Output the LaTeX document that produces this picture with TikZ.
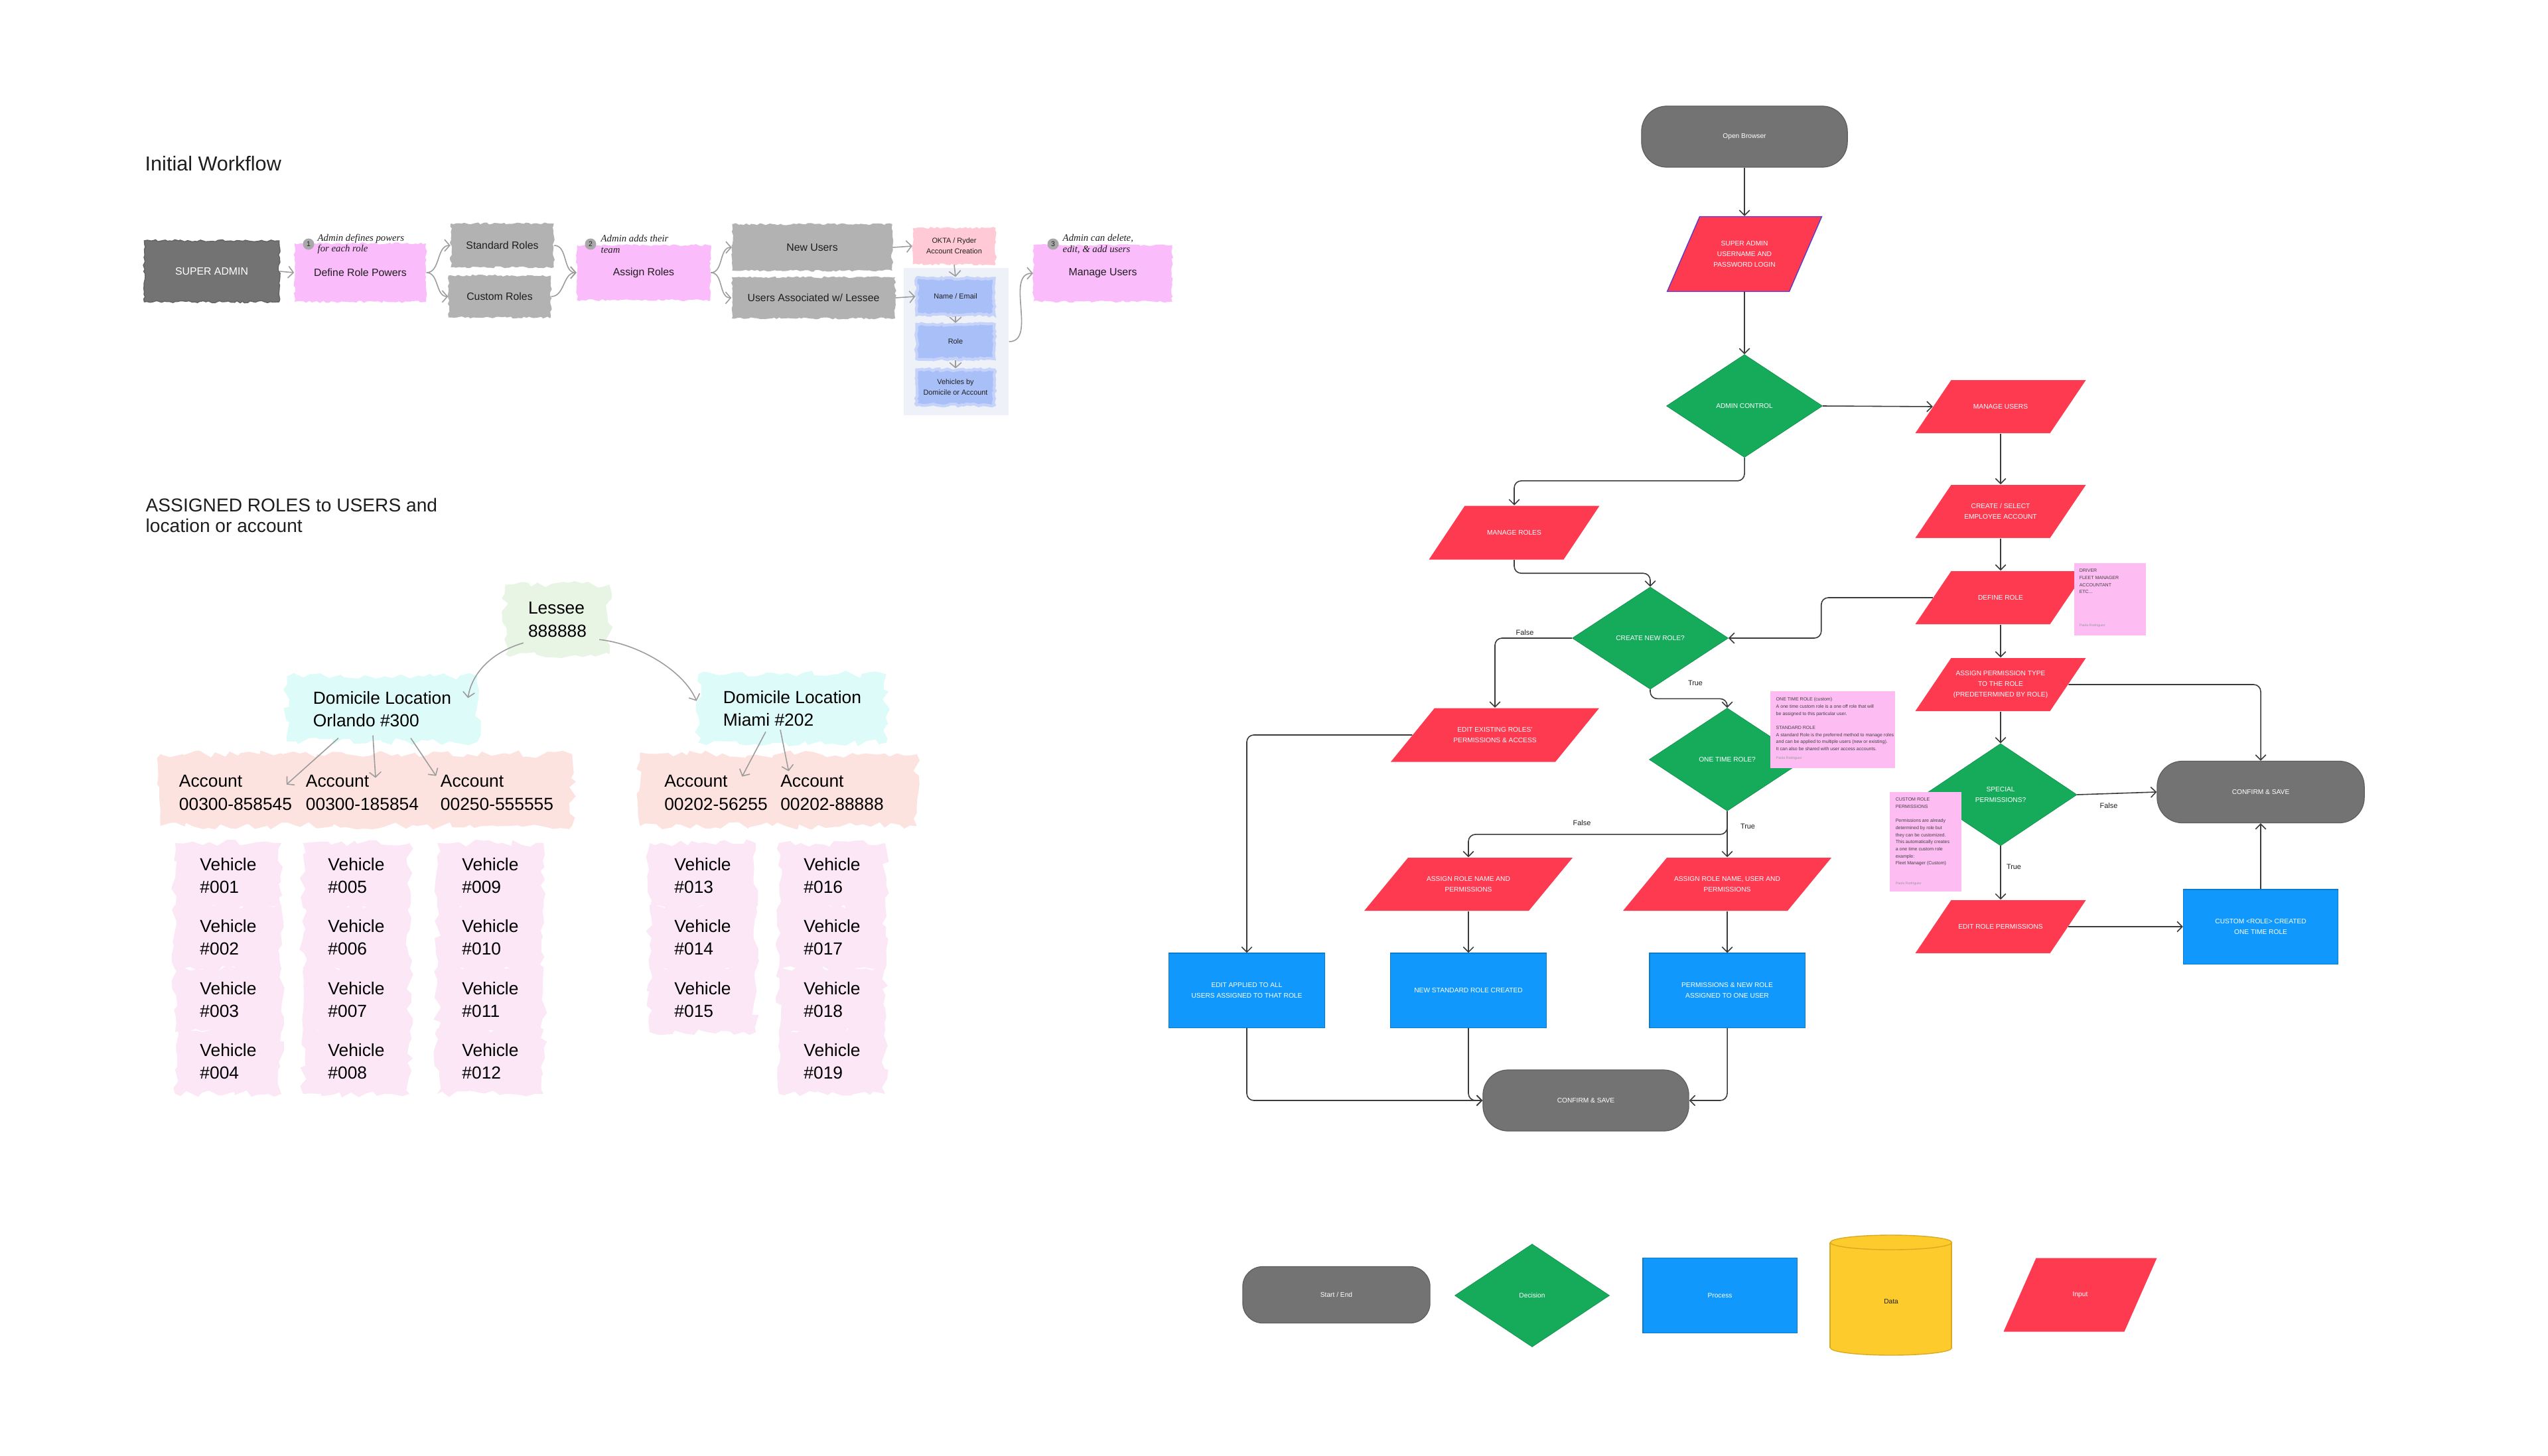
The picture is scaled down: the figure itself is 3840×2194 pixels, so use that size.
\documentclass[tikz,border=0pt]{standalone}
\usepackage{fontspec}
\setmainfont{Liberation Sans}
\newfontfamily\handfont{Liberation Serif}
\usetikzlibrary{arrows.meta,shapes.geometric,decorations.pathmorphing,calc}
\definecolor{gryc}{HTML}{737373}
\definecolor{grycd}{HTML}{5E5E5E}
\definecolor{redc}{HTML}{FE3A51}
\definecolor{grnc}{HTML}{16AB5B}
\definecolor{bluc}{HTML}{1098FC}
\definecolor{yelc}{HTML}{FDCB2B}
\definecolor{yelcd}{HTML}{D9AA22}
\definecolor{stk}{HTML}{FDBDF3}
\definecolor{wpink}{HTML}{FBBCFC}
\definecolor{wgray}{HTML}{B2B2B2}
\definecolor{wdark}{HTML}{737373}
\definecolor{okta}{HTML}{FFC9D6}
\definecolor{peri}{HTML}{A9BFF8}
\definecolor{perif}{HTML}{C5D3FA}
\definecolor{panel}{HTML}{EEF1F7}
\definecolor{lgreen}{HTML}{E8F4E4}
\definecolor{lcyan}{HTML}{DDFBF8}
\definecolor{lpeach}{HTML}{FDE3DF}
\definecolor{lpink}{HTML}{FCE7F6}
\definecolor{txt}{HTML}{1E1E1E}
\definecolor{lnc}{HTML}{3A3A3A}
\definecolor{wln}{HTML}{9C9C9C}
\definecolor{circ}{HTML}{A8A8A8}
\definecolor{purp}{HTML}{5B3BC8}
\newcommand\inpshape[5][]{%
  \path[fill=redc,#1] ({#2-#4/2+#5},{#3-#4*0+(-1)*0}) ;}
\newcommand\paral[6][]{% opts, x, y, W, H, S
  \path[fill=redc,#1] ({#2-#4/2+#6},{#3-#5/2}) -- ({#2+#4/2},{#3-#5/2}) -- ({#2+#4/2-#6},{#3+#5/2}) -- ({#2-#4/2},{#3+#5/2}) -- cycle;}
\begin{document}
\begin{tikzpicture}[x=0.01cm, y=-0.01cm,
  fc/.style={font=\fontsize{2.9}{4.6}\selectfont, text=white, align=center, inner sep=0pt},
  term/.style={fc, rectangle, rounded corners=0.38cm, fill=gryc, draw=grycd, line width=0.35pt},
  dec/.style={fc, diamond, fill=grnc, draw=grnc!85!black, line width=0.2pt},
  proc/.style={fc, rectangle, fill=bluc, draw=bluc!80!black, line width=0.3pt, minimum width=2.34cm, minimum height=1.12cm},
  inpt/.style={fc, rectangle},
  conn/.style={draw=lnc, line width=0.45pt, rounded corners=3pt, -{Straight Barb[length=2.2pt,width=4.4pt]}},
  lbl/.style={font=\fontsize{3.1}{4}\selectfont, text=txt, inner sep=0pt},
  stext/.style={font=\fontsize{2}{3.05}\selectfont, text=black!75, align=left, inner sep=0pt, anchor=north west},
  sauth/.style={font=\fontsize{1.5}{2}\selectfont, text=black!40, inner sep=0pt, anchor=west},
  rough/.style={decorate, decoration={random steps, segment length=1.2pt, amplitude=0.45pt}},
  wbox/.style={rough, inner sep=0pt, font=\fontsize{4.5}{6}\selectfont, text=txt, align=center},
  wsmall/.style={font=\fontsize{3.1}{4.5}\selectfont},
  wconn/.style={draw=wln, line width=0.45pt, -{Straight Barb[length=2.2pt,width=5pt]}},
  blob/.style={decorate, decoration={random steps, segment length=3pt, amplitude=1.6pt}},
  big/.style={font=\fontsize{7.5}{9.9}\selectfont, text=black, align=left, inner sep=0pt},
  vbox/.style={blob, big, fill=lpink, minimum width=1.6cm, minimum height=0.98cm},
  note/.style={font=\fontsize{4.2}{4.6}\handfont\itshape\selectfont, text=txt, align=left, inner sep=0pt, anchor=west},
  ncirc/.style={circle, fill=circ, minimum size=0.17cm, inner sep=0pt, font=\fontsize{3}{3}\selectfont, text=txt}
]
\pgfmathsetseed{7}
\path[use as bounding box, fill=white] (0,0) rectangle (3840,2194);

% ================= Initial Workflow =================
\node[font=\fontsize{8.7}{10}\selectfont, text=txt, anchor=west, inner sep=0pt] (title1) at (218,247) {Initial Workflow};

\node[wbox, fill=wdark, draw=wdark!85!black, text=white, minimum width=2.03cm, minimum height=0.92cm] (wsa) at (319,409) {SUPER ADMIN};
\node[wbox, fill=wpink, minimum width=1.98cm, minimum height=0.88cm] (wdr) at (543,411) {Define Role Powers};
\node[wbox, fill=wgray, minimum width=1.55cm, minimum height=0.66cm] (wsr) at (757,370) {Standard Roles};
\node[wbox, fill=wgray, minimum width=1.54cm, minimum height=0.63cm] (wcr) at (753,447) {Custom Roles};
\node[wbox, fill=wpink, minimum width=2.01cm, minimum height=0.83cm] (war) at (970,411) {Assign Roles};
\node[wbox, fill=wgray, minimum width=2.41cm, minimum height=0.70cm] (wnu) at (1224,373) {New Users};
\node[wbox, fill=wgray, minimum width=2.46cm, minimum height=0.62cm] (wua) at (1226,449) {Users Associated w/ Lessee};
\node[wbox, wsmall, fill=okta, minimum width=1.25cm, minimum height=0.55cm] (wok) at (1438,371) {OKTA / Ryder\\Account Creation};
\node[fill=panel, minimum width=1.58cm, minimum height=2.22cm, inner sep=0pt] (wpanel) at (1441,515) {};
\node[wbox, wsmall, fill=peri, draw=perif, line width=1.2pt, minimum width=1.17cm, minimum height=0.55cm] (wne) at (1440,447) {Name / Email};
\node[wbox, wsmall, fill=peri, draw=perif, line width=1.2pt, minimum width=1.17cm, minimum height=0.52cm] (wro) at (1440,515) {Role};
\node[wbox, wsmall, fill=peri, draw=perif, line width=1.2pt, minimum width=1.17cm, minimum height=0.53cm] (wve) at (1440,584) {Vehicles by\\Domicile or Account};
\node[wbox, fill=wpink, minimum width=2.09cm, minimum height=0.85cm] (wmu) at (1662,412) {Manage Users};

\node[ncirc] (c1) at (465,368) {1};
\node[ncirc] (c2) at (890,368) {2};
\node[ncirc] (c3) at (1587,368) {3};
\node[note] (t1) at (478,368) {Admin defines powers\\for each role};
\node[note] (t2) at (905,368) {Admin adds their\\team};
\node[note] (t3) at (1601,368) {Admin can delete,\\edit, \& add users};

\draw[wconn] (wsa.east) -- (wdr.west);
\draw[wconn] (wdr.east) to[out=0,in=180] (wsr.west);
\draw[wconn] (wdr.east) to[out=0,in=180] (wcr.west);
\draw[wconn] (wsr.east) to[out=0,in=180] (war.west);
\draw[wconn] (wcr.east) to[out=0,in=180] (war.west);
\draw[wconn] (war.east) to[out=0,in=180] (wnu.west);
\draw[wconn] (war.east) to[out=0,in=180] (wua.west);
\draw[wconn] (wnu.east) -- (wok.west);
\draw[wconn] (wua.east) -- (wne.west);
\draw[wconn] (wok.south) -- (wne.north);
\draw[wconn] (wne.south) -- (wro.north);
\draw[wconn] (wro.south) -- (wve.north);
\draw[wconn] (wpanel.east) to[out=0,in=180] (wmu.west);

% ================= Assigned roles =================
\node[font=\fontsize{8}{8.8}\selectfont, text=txt, anchor=west, align=left, inner sep=0pt] (title2) at (219,777) {ASSIGNED ROLES to USERS and\\location or account};

\node[blob, big, fill=lgreen, minimum width=1.57cm, minimum height=1.05cm] (les) at (840,934) {Lessee\\888888};
\node[blob, big, fill=lcyan, minimum width=2.87cm, minimum height=0.98cm] (dom1) at (576,1069) {Domicile Location\\Orlando \#300};
\node[blob, big, fill=lcyan, minimum width=2.83cm, minimum height=1.03cm] (dom2) at (1194,1068) {Domicile Location\\Miami \#202};
\node[blob, fill=lpeach, minimum width=6.2cm, minimum height=1.08cm, inner sep=0pt] (accbg1) at (552,1191) {};
\node[blob, fill=lpeach, minimum width=4.17cm, minimum height=1.08cm, inner sep=0pt] (accbg2) at (1173,1191) {};
\node[big] (acc1) at (355,1195) {Account\\00300-858545};
\node[big] (acc2) at (546,1195) {Account\\00300-185854};
\node[big] (acc3) at (749,1195) {Account\\00250-555555};
\node[big] (acc4) at (1079,1195) {Account\\00202-56255};
\node[big] (acc5) at (1254,1195) {Account\\00202-88888};

\foreach \nm/\xx/\yy/\num in {v1/344/1320/001, v2/344/1413/002, v3/344/1507/003, v4/344/1600/004,
  v5/537/1320/005, v6/537/1413/006, v7/537/1507/007, v8/537/1600/008,
  v9/739/1320/009, v10/739/1413/010, v11/739/1507/011, v12/739/1600/012,
  v13/1059/1320/013, v14/1059/1413/014, v15/1059/1507/015,
  v16/1254/1320/016, v17/1254/1413/017, v18/1254/1507/018, v19/1254/1600/019} {
  \node[vbox] (\nm) at (\xx,\yy) {Vehicle\\\#\num};
}

\draw[wconn] ([xshift=0.28cm,yshift=0.18cm]les.south west) .. controls (735,985) and (710,1020) .. ([xshift=-0.15cm,yshift=-0.33cm]dom1.north east);
\draw[wconn] ([xshift=-0.16cm,yshift=0.23cm]les.south east) .. controls (960,970) and (1030,1010) .. ([xshift=-0.02cm,yshift=-0.41cm]dom2.north west);
\draw[wconn] ([xshift=-0.66cm,yshift=0.06cm]dom1.south) -- ([xshift=-0.09cm,yshift=-0.15cm]acc1.north east);
\draw[wconn] ([xshift=-0.14cm,yshift=0.1cm]dom1.south) -- ([xshift=0.2cm,yshift=-0.05cm]acc2.north);
\draw[wconn] ([xshift=0.43cm,yshift=0.06cm]dom1.south) -- ([xshift=-0.06cm,yshift=-0.02cm]acc3.north west);
\draw[wconn] ([xshift=-0.4cm,yshift=0.17cm]dom2.south) -- ([xshift=-0.39cm,yshift=-0.03cm]acc4.north east);
\draw[wconn] ([xshift=-0.18cm,yshift=0.2cm]dom2.south) -- ([xshift=0.13cm,yshift=0.05cm]acc5.north west);

% ================= Flowchart =================
\node[term, minimum width=3.10cm, minimum height=0.92cm] (ob) at (2629,206) {Open Browser};
\paral[draw=purp, line width=0.4pt]{2629}{383}{233}{113}{49}
\node[inpt, minimum width=2.33cm, minimum height=1.13cm] (sal) at (2629,383) {SUPER ADMIN\\USERNAME AND\\PASSWORD LOGIN};
\node[dec, minimum width=2.35cm, minimum height=1.55cm] (ac) at (2629,612) {ADMIN CONTROL};

\paral{3015}{613}{257}{80}{54}
\node[inpt, minimum width=2.57cm, minimum height=0.8cm] (mu) at (3015,613) {MANAGE USERS};
\paral{3015}{771}{257}{80}{54}
\node[inpt, minimum width=2.57cm, minimum height=0.8cm] (cse) at (3015,771) {CREATE / SELECT\\EMPLOYEE ACCOUNT};
\paral{3015}{901}{257}{80}{54}
\node[inpt, minimum width=2.57cm, minimum height=0.8cm] (dr) at (3015,901) {DEFINE ROLE};
\paral{3015}{1032}{257}{80}{54}
\node[inpt, minimum width=2.57cm, minimum height=0.8cm] (ap) at (3015,1032) {ASSIGN PERMISSION TYPE\\TO THE ROLE\\(PREDETERMINED BY ROLE)};

\paral{2282}{803}{257}{81}{54}
\node[inpt, minimum width=2.57cm, minimum height=0.81cm] (mr) at (2282,803) {MANAGE ROLES};
\node[dec, minimum width=2.35cm, minimum height=1.54cm] (cnr) at (2487,962) {CREATE NEW ROLE?};
\paral{2253}{1108}{314}{81}{66}
\node[inpt, minimum width=3.14cm, minimum height=0.81cm] (eer) at (2253,1108) {EDIT EXISTING ROLES’\\PERMISSIONS \& ACCESS};
\node[dec, minimum width=2.35cm, minimum height=1.55cm] (otr) at (2603,1145) {ONE TIME ROLE?};
\paral{2213}{1333}{314}{80}{66}
\node[inpt, minimum width=3.14cm, minimum height=0.8cm] (asr1) at (2213,1333) {ASSIGN ROLE NAME AND\\PERMISSIONS};
\paral{2603}{1333}{314}{80}{66}
\node[inpt, minimum width=3.14cm, minimum height=0.8cm] (asr2) at (2603,1333) {ASSIGN ROLE NAME, USER AND\\PERMISSIONS};
\node[proc] (ea) at (1879,1493) {EDIT APPLIED TO ALL\\USERS ASSIGNED TO THAT ROLE};
\node[proc] (nsr) at (2213,1493) {NEW STANDARD ROLE CREATED};
\node[proc] (pnr) at (2603,1493) {PERMISSIONS \& NEW ROLE\\ASSIGNED TO ONE USER};
\node[term, minimum width=3.10cm, minimum height=0.92cm] (cs2) at (2390,1659) {CONFIRM \& SAVE};

\node[dec, minimum width=2.30cm, minimum height=1.54cm] (sp) at (3015,1198) {SPECIAL\\PERMISSIONS?};
\node[term, minimum width=3.12cm, minimum height=0.93cm] (cs1) at (3407,1194) {CONFIRM \& SAVE};
\paral{3015}{1397}{257}{80}{54}
\node[inpt, minimum width=2.57cm, minimum height=0.8cm] (erp) at (3015,1397) {EDIT ROLE PERMISSIONS};
\node[proc, minimum width=2.33cm] (cr) at (3407,1397) {CUSTOM <ROLE> CREATED\\ONE TIME ROLE};

% sticky notes
\node[fill=stk, minimum width=1.08cm, minimum height=1.09cm, inner sep=0pt, anchor=north west] (st1) at (3125,848) {};
\node[stext] (st1t) at (3133,857) {DRIVER\\FLEET MANAGER\\ACCOUNTANT\\ETC...};
\node[sauth] (st1a) at (3133,943) {Paola Rodriguez};
\node[fill=stk, minimum width=1.88cm, minimum height=1.16cm, inner sep=0pt, anchor=north west] (st2) at (2667,1041) {};
\node[stext] (st2t) at (2676,1051) {ONE TIME ROLE (custom)\\A one time custom role is a one off role that will\\be assigned to this particular user.\\[3pt]STANDARD ROLE\\A standard Role is the preferred method to manage roles\\and can be applied to multiple  users (new or existing).\\It can also be shared with user access accounts.};
\node[sauth] (st2a) at (2676,1143) {Paola Rodriguez};
\node[fill=stk, minimum width=1.08cm, minimum height=1.50cm, inner sep=0pt, anchor=north west] (st3) at (2847,1193) {};
\node[stext] (st3t) at (2856,1202) {CUSTOM ROLE\\PERMISSIONS\\[3pt]Permissions are already\\determined by role but\\they can be customized.\\This automatically creates\\a one time custom role\\example:\\Fleet Manager (Custom)};
\node[sauth] (st3a) at (2856,1332) {Paola Rodriguez};

% connectors
\draw[conn] (ob.south) -- (sal.north);
\draw[conn] (sal.south) -- (ac.north);
\draw[conn] (ac.east) -- ([xshift=0.27cm]mu.west);
\draw[conn] (ac.south) -- ++(0,35) -| (mr.north);
\draw[conn] (mu.south) -- (cse.north);
\draw[conn] (cse.south) -- (dr.north);
\draw[conn] (dr.south) -- (ap.north);
\draw[conn] (mr.south) -- ++(0,20) -| (cnr.north);
\draw[conn] ([xshift=0.27cm]dr.west) -- ++(-168,0) |- (cnr.east);
\draw[conn] (cnr.west) -| (eer.north);
\draw[conn] (cnr.south) -- ++(0,14) -| (otr.north);
\draw[conn] ([xshift=0.33cm]eer.west) -| (ea.north);
\draw[conn] (otr.south) -- (asr2.north);
\draw[conn] (otr.south) -- ++(0,35) -| (asr1.north);
\draw[conn] (asr1.south) -- (nsr.north);
\draw[conn] (asr2.south) -- (pnr.north);
\draw[conn] (ea.south) |- (cs2.west);
\draw[conn] (nsr.south) |- (cs2.west);
\draw[conn] (pnr.south) |- (cs2.east);
\draw[conn] ([xshift=-0.27cm]ap.east) -| (cs1.north);
\draw[conn] (ap.south) -- (sp.north);
\draw[conn] (sp.east) -- (cs1.west);
\draw[conn] (sp.south) -- (erp.north);
\draw[conn] ([xshift=-0.27cm]erp.east) -- (cr.west);
\draw[conn] (cr.north) -- (cs1.south);

\node[lbl] (lf1) at (2298,954) {False};
\node[lbl] (lt1) at (2555,1030) {True};
\node[lbl] (lt2) at (2634,1246) {True};
\node[lbl] (lf2) at (2384,1241) {False};
\node[lbl] (lf3) at (3178,1215) {False};
\node[lbl] (lt3) at (3035,1307) {True};

% ================= Legend =================
\node[term, minimum width=2.82cm, minimum height=0.85cm, rounded corners=0.3cm] (lse) at (2014,1952) {Start / End};
\node[dec, minimum width=2.33cm, minimum height=1.55cm] (ldec) at (2309,1953) {Decision};
\node[proc, minimum width=2.32cm, minimum height=1.13cm] (lproc) at (2592,1953) {Process};
\filldraw[fill=yelc, draw=yelcd, line width=0.4pt] (2850,2032) ellipse [x radius=0.915cm, y radius=0.11cm];
\fill[yelc] (2758,1873) rectangle (2941,2032);
\draw[yelcd, line width=0.4pt] (2758,1873) -- (2758,2032) (2941,1873) -- (2941,2032);
\filldraw[fill=yelc, draw=yelcd, line width=0.4pt] (2850,1873) ellipse [x radius=0.915cm, y radius=0.11cm];
\node[fc, text=txt] (ldata) at (2850,1962) {Data};
\paral{3135}{1952}{231}{111}{49}
\node[inpt, minimum width=2.31cm, minimum height=1.11cm] (linp) at (3135,1952) {Input};
\end{tikzpicture}
\end{document}
